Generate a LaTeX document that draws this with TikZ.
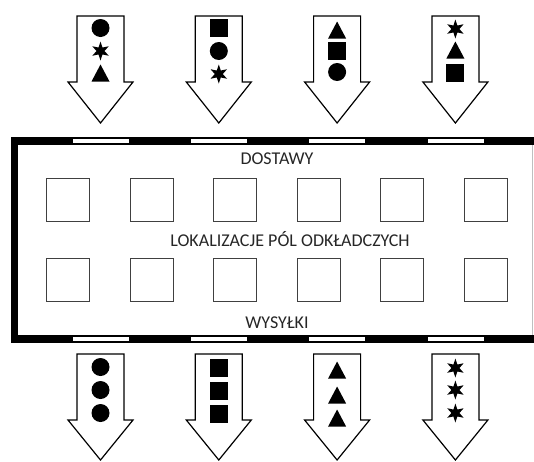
\documentclass[tikz,border=0pt]{standalone}
\usepackage{fontspec}
\setmainfont{Carlito}
\usepackage{tikz}

% shapes carried by the arrows
\newcommand{\symdot}[2]{\fill (#1,#2) circle (9);}
\newcommand{\symsq}[2]{\fill (#1-9,#2-9) rectangle (#1+9,#2+9);}
\newcommand{\symtri}[2]{\fill (#1,#2-8.5) -- (#1+9,#2+8.5) -- (#1-9,#2+8.5) -- cycle;}
\newcommand{\symstar}[2]{\fill[shift={(#1,#2)}] (90:9.5) -- (120:4) -- (150:9.5) -- (180:4) -- (210:9.5) -- (240:4) -- (270:9.5) -- (300:4) -- (330:9.5) -- (0:4) -- (30:9.5) -- (60:4) -- cycle;}
% big hollow down arrow: centre x, top, wing line, tip
\newcommand{\flowarrow}[4]{\draw[arrowbox] (#1-23.5,#2) -- (#1+23.5,#2) -- (#1+23.5,#3) -- (#1+32.5,#3) -- (#1,#4) -- (#1-32.5,#3) -- (#1-23.5,#3) -- cycle;}

\tikzset{
	wall/.style={fill=black, draw=none},
	door/.style={fill=white, draw=black, line width=0.8pt},
	arrowbox/.style={fill=white, draw=black, line width=1.2pt, line join=miter},
	field/.style={draw=black!75, line width=1pt, minimum size=43pt, inner sep=0pt},
	zonetext/.style={text=black!85, font=\fontsize{18}{20}\selectfont, anchor=base}
}

\begin{document}
\begin{tikzpicture}[x=1pt, y=-1pt]
			\useasboundingbox (0,0) rectangle (534,461);
			
			% Incoming arrows
			\flowarrow{100.5}{16}{82}{123}
			\flowarrow{218.8}{16}{82}{123}
			\flowarrow{337.1}{16}{82}{123}
			\flowarrow{455.4}{16}{82}{123}
			\symdot{100.5}{28} \symstar{100.5}{51} \symtri{100.5}{73}
			\symsq{218.8}{28} \symdot{218.8}{51} \symstar{218.8}{74}
			\symtri{337.1}{30} \symsq{337.1}{51} \symdot{337.1}{72}
			\symstar{455.4}{29} \symtri{455.4}{50} \symsq{455.4}{73}
			
			% Walls
			\fill[wall] (11,137) rectangle (534,145);
			\fill[wall] (11,335) rectangle (534,343);
			\fill[wall] (11,137) rectangle (18,343);
			\draw[black!25, line width=0.8pt] (532,145) -- (532,335);
			
			% Doors
			\foreach \x in {100.5,218.8,337.1,455.4} {
				\draw[door] (\x-28.5,138.5) rectangle (\x+28.5,143.5);
				\draw[door] (\x-28.5,336.5) rectangle (\x+28.5,341.5);
			}
			
			% Storage fields
			\foreach \x [count=\c] in {67.5,151.5,235,318.5,402,486} {
				\node[field] (f1\c) at (\x,199.5) {};
				\node[field] (f2\c) at (\x,279.5) {};
			}
			\node[zonetext] (dostawy) at (277,164) {DOSTAWY};
			\node[zonetext] (lokalizacje) at (290,246) {LOKALIZACJE PÓL ODKŁADCZYCH};
			\node[zonetext] (wysylki) at (277,328) {WYSYŁKI};
			
			% Outgoing arrows
			\flowarrow{100.5}{354}{420}{460}
			\flowarrow{218.8}{354}{420}{460}
			\flowarrow{337.1}{354}{420}{460}
			\flowarrow{455.4}{354}{420}{460}
			\symdot{100.5}{367} \symdot{100.5}{390} \symdot{100.5}{413}
			\symsq{218.8}{368} \symsq{218.8}{391} \symsq{218.8}{414}
			\symtri{337.1}{370} \symtri{337.1}{395} \symtri{337.1}{418}
			\symstar{455.4}{368} \symstar{455.4}{390} \symstar{455.4}{413}
			
		\end{tikzpicture}
\end{document}
